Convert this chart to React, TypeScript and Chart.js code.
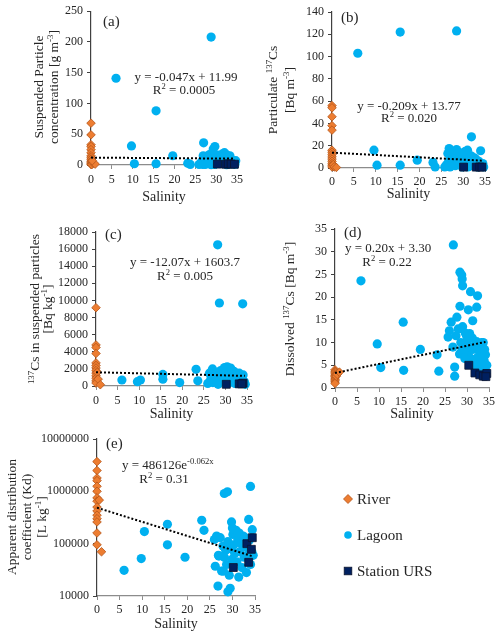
import React, { useEffect, useRef } from 'react';
import { Chart, registerables } from 'chart.js';
Chart.register(...registerables);

type P = [number, number];

const X_TICKS = [0, 5, 10, 15, 20, 25, 30, 35];

// ---------- (a) Suspended particle concentration ----------
const A_RIVER: P[] = [[0,68],[0,49],[0,33],[0,30],[0,25],[0,20],[0,15],[0,12],[0,9],[0,6],[0,4],[0,2],[0,1],[0.2,0.5],[0.5,3],[1,1.5],[0.3,7]];
const A_LAGOON: P[] = [[6.0,141],[28.8,208],[15.6,88],[9.7,31],[10.4,2],[15.6,2],[19.6,15],[23.2,3],[23.8,1],[27.0,36],[26.9,15],[29.7,30],[29.3,26],[34.7,7],
  [25.9,1],[26.3,3],[26.6,6],[26.8,1],[27.2,9],[27.5,3],[27.7,12],[28.0,5],[28.3,2],[28.4,17],[28.6,9],[28.9,13],[29.0,19],[29.2,4],[29.5,7],[29.7,1],[29.9,11],[30.1,3],[30.4,13],[30.6,16],[30.8,2],[31.0,9],[31.2,5],[31.3,14],[31.5,18],[31.7,12],[31.9,3],[32.0,20],[32.2,7],[32.4,17],[32.6,4],[32.8,10],[33.0,1],[33.1,12],[33.3,15],[33.5,5],[33.8,8],[34.0,2],[34.3,4],[34.5,1],[27.4,1],[28.8,0.5],[30.9,6],[32.5,0.5],[33.7,3]];
const A_URS: P[] = [[30.3,1.5],[32.3,1.2],[32.9,2],[33.6,1.5],[34.4,1.3]];
const A_FIT = { slope: -0.047, intercept: 11.99, xEnd: 34.4 };

// ---------- (b) Particulate 137Cs ----------
const B_RIVER: P[] = [[0,56],[0,54],[0,46],[0,38],[0,34],[0,16],[0,14],[0,12],[0,10],[0,8],[0,6],[0,4],[0,2.5],[0,1],[0.3,3],[0.5,1],[1.0,0.5]];
const B_LAGOON: P[] = [[5.9,103],[15.6,122],[28.5,123],[31.9,28],[9.6,16],[10.3,2.5],[15.6,2.5],[19.5,7],[23.1,5],[23.6,1],[26.8,17.5],[28.5,16.5],[30.5,15],[31.0,16],[34.0,15.5],
  [25.8,1],[26.2,3],[26.5,13],[26.7,6],[27.0,1],[27.3,9],[27.6,4],[27.9,11],[28.2,2],[28.4,7],[28.7,13],[29.0,3],[29.3,10],[29.5,5],[29.8,1],[30.0,8],[30.3,12],[30.6,3],[30.8,6],[31.1,1],[31.3,9],[31.6,4],[31.8,11],[32.1,2],[32.3,7],[32.6,9],[32.8,3],[33.1,5],[33.3,1],[33.6,6],[33.9,3],[34.2,2],[34.5,4],[34.7,1],[29.1,14],[27.2,15],[32.9,8]];
const B_URS: P[] = [[30.1,0.8],[33.0,0.8],[33.8,0.9],[34.3,0.8]];
const B_FIT = { slope: -0.209, intercept: 13.77, xEnd: 34.6 };

// ---------- (c) 137Cs in suspended particles ----------
const C_RIVER: P[] = [[0,9150],[0,4800],[0,4500],[0,3800],[0,2700],[0,2400],[0,2100],[0,1800],[0,1500],[0,1200],[0,900],[0,600],[0,350],[0.3,1600],[0.5,800],[1.0,150]];
const C_LAGOON: P[] = [[28.2,16500],[28.6,9700],[34.0,9600],[6.0,700],[9.6,500],[10.3,700],[15.5,1350],[15.5,800],[19.4,400],[23.2,1950],[23.6,600],
  [25.9,300],[26.3,1500],[26.6,800],[26.9,1700],[27.1,400],[27.4,1200],[27.7,600],[28.0,1500],[28.3,200],[28.6,1000],[28.9,1800],[29.1,500],[29.4,1300],[29.6,2000],[29.9,700],[30.1,1600],[30.4,2250],[30.6,300],[30.8,1100],[31.0,1900],[31.3,600],[31.5,1400],[31.7,900],[32.0,1700],[32.2,300],[32.5,1200],[32.7,600],[33.0,1000],[33.2,1500],[33.5,400],[33.8,800],[34.1,1300],[34.4,500],[34.6,200],[27.0,2000],[29.8,2150],[31.2,2100],[30.8,1200]];
const C_URS: P[] = [[30.2,200],[33.2,250],[34.1,330],[33.8,250]];
const C_FIT = { slope: -12.07, intercept: 1603.7, xEnd: 34.5 };

// ---------- (d) Dissolved 137Cs ----------
const D_RIVER: P[] = [[0,4.0],[0,3.7],[0,3.4],[0,3.1],[0,2.8],[0,2.5],[0,2.2],[0,1.9],[0,1.6],[0,1.3],[0,1.0],[0.3,2.6],[0.5,3.0],[1.0,3.5]];
const D_LAGOON: P[] = [[26.9,31.5],[5.9,23.6],[28.4,25.5],[28.8,24.9],[28.9,24],[29.0,22.5],[30.8,21.2],[32.4,20.3],[32.2,17.8],[28.4,18],[30.3,17.2],[31.3,14.8],[15.5,14.5],[9.6,9.7],[10.4,4.5],[15.6,3.9],[19.4,8.5],[23.2,7.3],[23.6,3.7],[26.4,14.5],[26.0,12.6],[25.7,11.2],[26.8,9],[27.2,4.6],[27.2,2.6],[27.7,15.6],[28.3,7.5],[29.0,13.5],[29.6,12.1],[29.9,11.5],[32.2,10.2],[33.7,10],[34.2,7.3],
  [27.5,11.5],[28.0,13],[28.6,10],[29.3,9],[29.8,8],[30.1,10.5],[30.4,7],[30.7,9],[31.0,6],[31.3,8.5],[31.6,5],[31.9,9.5],[32.1,6.5],[32.5,4.5],[32.8,8],[33.1,5.5],[33.4,7],[33.6,4],[33.9,6],[34.3,3.5],[34.5,5],[31.2,11],[30.6,12],[29.5,6.5],[28.9,8.5],[32.7,9],[33.3,10],[34.0,8.5]];
const D_URS: P[] = [[30.4,5.0],[31.8,3.3],[32.9,2.9],[33.7,2.6],[34.5,3.2],[34.3,2.5]];
const D_FIT = { slope: 0.20, intercept: 3.30, xEnd: 34.2 };

// ---------- (e) Apparent distribution coefficient ----------
const E_RIVER: P[] = [[0,3.7e6],[0,2.5e6],[0,1.8e6],[0,1.6e6],[0,1.25e6],[0,1.0e6],[0,7.5e5],[0,6.5e5],[0,5.0e5],[0,4.2e5],[0,3.5e5],[0,3.0e5],[0,2.6e5],[0,1.6e5],[0,9.5e4],[0.5,6.8e5],[1.0,7.0e4]];
const E_LAGOON: P[] = [[6.0,31000],[9.8,52000],[10.5,170000],[15.6,235000],[15.6,95000],[19.5,55000],[23.2,280000],[23.7,180000],[28.2,910000],[28.9,980000],[34.0,1240000],[26.8,15500],[29.0,12000],[29.5,14000],[26.2,37000],[29.8,260000],[33.6,290000],[34.4,185000],
  [26.0,120000],[26.5,140000],[26.9,60000],[27.3,130000],[27.6,30000],[27.9,90000],[28.2,55000],[28.5,75000],[28.7,40000],[29.0,110000],[29.3,25000],[29.6,80000],[29.9,50000],[30.1,150000],[30.3,95000],[30.5,65000],[30.8,180000],[31.0,45000],[31.2,120000],[31.4,23000],[31.6,70000],[31.9,100000],[32.1,35000],[32.4,140000],[32.6,55000],[32.9,85000],[33.1,28000],[33.4,60000],[33.7,115000],[34.0,40000],[34.3,70000],[34.6,60000],[30.0,200000],[31.5,160000],[32.8,130000],[28.0,30000],[27.0,58000]];
const E_URS: P[] = [[30.2,35000],[33.2,100000],[33.6,44000],[34.2,78000],[34.4,130000]];
const E_FIT = { coef: 486126, rate: -0.062, xEnd: 34.5 };
const E_Y_TICKS = [10000, 100000, 1000000, 10000000];

const LEGEND_LABELS = ['River', 'Lagoon', 'Station URS'];

// ---------- styling ----------
const FONT = '"Liberation Serif", "Times New Roman", serif';
const TEXT = '#262626';
const RIVER_FILL = '#ED7D31';
const RIVER_EDGE = '#B4561B';
const LAGOON_FILL = '#00B0F0';
const URS_FILL = '#002060';
const URS_EDGE = '#0a1430';
const W = 500;
const H = 635;
const Y_AXIS_W = 60;
const X_AXIS_H = 26;

type Rich = { text: string; x: number; y: number; size: number; align: 'left' | 'center' };

interface PanelCfg {
  area: [number, number, number, number];
  y: { min: number; max: number; step?: number; log?: boolean };
  river: P[];
  lagoon: P[];
  urs: P[];
  fit: P[];
  texts: Rich[];
  yTitle: { lines: string[]; xs: number[]; cy: number; size: number };
  xTitleY: number;
  xTickPad: number;
  legend?: boolean;
}

function linFit(f: { slope: number; intercept: number; xEnd: number }): P[] {
  return [[0, f.intercept], [f.xEnd, f.intercept + f.slope * f.xEnd]];
}
function expFit(f: { coef: number; rate: number; xEnd: number }): P[] {
  const pts: P[] = [];
  for (let x = 0; x <= f.xEnd + 1e-9; x += 0.5) pts.push([x, f.coef * Math.exp(f.rate * x)]);
  return pts;
}

type Seg = { t: string; sup: boolean };
function parseRich(s: string): Seg[] {
  const out: Seg[] = [];
  const re = /\^\{([^}]*)\}/g;
  let last = 0;
  let m: RegExpExecArray | null;
  while ((m = re.exec(s))) {
    if (m.index > last) out.push({ t: s.slice(last, m.index), sup: false });
    out.push({ t: m[1], sup: true });
    last = re.lastIndex;
  }
  if (last < s.length) out.push({ t: s.slice(last), sup: false });
  return out;
}
function drawRich(ctx: CanvasRenderingContext2D, s: string, x: number, yMid: number, size: number, align: 'left' | 'center', color = TEXT) {
  const segs = parseRich(s);
  const supSize = size * 0.66;
  const f = (sz: number) => `${sz}px ${FONT}`;
  let total = 0;
  const widths = segs.map((sg) => {
    ctx.font = f(sg.sup ? supSize : size);
    const w = ctx.measureText(sg.t).width;
    total += w;
    return w;
  });
  let cx = align === 'center' ? x - total / 2 : x;
  const base = yMid + size * 0.33;
  ctx.fillStyle = color;
  ctx.textAlign = 'left';
  ctx.textBaseline = 'alphabetic';
  segs.forEach((sg, i) => {
    ctx.font = f(sg.sup ? supSize : size);
    ctx.fillText(sg.t, cx, sg.sup ? base - size * 0.4 : base);
    cx += widths[i];
  });
}

const textPlugin = {
  id: 'panelText',
  afterDraw(chart: any) {
    const cfg: PanelCfg = chart.options.plugins.panelText.cfg;
    const ctx: CanvasRenderingContext2D = chart.ctx;
    const [L, , R] = cfg.area;
    ctx.save();
    cfg.texts.forEach((t) => drawRich(ctx, t.text, t.x, t.y, t.size, t.align));
    cfg.yTitle.lines.forEach((line, i) => {
      ctx.save();
      ctx.translate(cfg.yTitle.xs[i], cfg.yTitle.cy);
      ctx.rotate(-Math.PI / 2);
      drawRich(ctx, line, 0, 0, cfg.yTitle.size, 'center');
      ctx.restore();
    });
    drawRich(ctx, 'Salinity', (L + R) / 2, cfg.xTitleY, 14, 'center');
    if (cfg.legend) {
      const mx = 348;
      const ys = [499, 535, 571];
      ctx.beginPath();
      ctx.moveTo(mx, ys[0] - 4.5); ctx.lineTo(mx + 4.5, ys[0]); ctx.lineTo(mx, ys[0] + 4.5); ctx.lineTo(mx - 4.5, ys[0]);
      ctx.closePath();
      ctx.fillStyle = RIVER_FILL; ctx.fill();
      ctx.strokeStyle = RIVER_EDGE; ctx.lineWidth = 0.8; ctx.stroke();
      ctx.beginPath();
      ctx.arc(mx, ys[1], 3.8, 0, Math.PI * 2);
      ctx.fillStyle = LAGOON_FILL; ctx.fill();
      ctx.fillStyle = URS_FILL;
      ctx.fillRect(mx - 3.8, ys[2] - 3.8, 7.6, 7.6);
      ctx.strokeStyle = URS_EDGE; ctx.lineWidth = 0.8;
      ctx.strokeRect(mx - 3.8, ys[2] - 3.8, 7.6, 7.6);
      LEGEND_LABELS.forEach((lab, i) => drawRich(ctx, lab, 357, ys[i], 15, 'left'));
    }
    ctx.restore();
  },
};

function makeChart(canvas: HTMLCanvasElement, cfg: PanelCfg) {
  const [L, T, R, B] = cfg.area;
  const axisText = { family: FONT, size: 12 };
  const yScale: any = cfg.y.log
    ? {
        type: 'logarithmic',
        min: cfg.y.min,
        max: cfg.y.max,
        afterBuildTicks: (s: any) => { s.ticks = E_Y_TICKS.map((v) => ({ value: v })); },
        ticks: { font: axisText, color: TEXT, padding: 4, callback: (v: any) => String(v) },
      }
    : {
        type: 'linear',
        min: cfg.y.min,
        max: cfg.y.max,
        ticks: { font: axisText, color: TEXT, padding: 4, stepSize: cfg.y.step, autoSkip: false, callback: (v: any) => String(v) },
      };
  yScale.afterFit = (s: any) => { s.width = Y_AXIS_W; };
  yScale.grid = { display: true, drawOnChartArea: false, drawTicks: true, tickLength: 4, color: '#404040', lineWidth: 1 };
  yScale.border = { display: true, color: '#404040', width: 1.2 };

  return new Chart(canvas, {
    type: 'scatter',
    data: {
      datasets: [
        { label: 'fit', data: cfg.fit.map(([x, y]) => ({ x, y })), showLine: true, pointRadius: 0, borderColor: '#000', borderWidth: 2, borderDash: [2, 2], clip: false as any },
        { label: 'Station URS', data: cfg.urs.map(([x, y]) => ({ x, y })), pointStyle: 'rect', pointRadius: 5.6, backgroundColor: URS_FILL, borderColor: URS_EDGE, borderWidth: 0.8, clip: false as any },
        { label: 'River', data: cfg.river.map(([x, y]) => ({ x, y })), pointStyle: 'rectRot', pointRadius: 4.3, backgroundColor: RIVER_FILL, borderColor: RIVER_EDGE, borderWidth: 0.8, clip: false as any },
        { label: 'Lagoon', data: cfg.lagoon.map(([x, y]) => ({ x, y })), pointStyle: 'circle', pointRadius: 4.6, backgroundColor: LAGOON_FILL, borderWidth: 0, clip: false as any },
      ],
    } as any,
    options: {
      animation: false,
      responsive: false,
      events: [],
      layout: { padding: { left: L - Y_AXIS_W, top: T, right: W - R, bottom: H - B - X_AXIS_H } },
      plugins: { legend: { display: false }, tooltip: { enabled: false }, panelText: { cfg } } as any,
      scales: {
        x: {
          type: 'linear',
          min: 0,
          max: 35,
          afterBuildTicks: (s: any) => { s.ticks = X_TICKS.map((v) => ({ value: v })); },
          afterFit: (s: any) => { s.height = X_AXIS_H; },
          ticks: { font: axisText, color: TEXT, padding: cfg.xTickPad, maxRotation: 0, autoSkip: false, callback: (v: any) => String(v) },
          grid: { display: true, drawOnChartArea: false, drawTicks: true, tickLength: 4, color: '#8c8c8c' },
          border: { display: true, color: '#8c8c8c', width: 1.2 },
        },
        y: yScale,
      },
    } as any,
    plugins: [textPlugin],
  });
}

const PANELS: PanelCfg[] = [
  {
    area: [91, 9, 237, 165],
    y: { min: 0, max: 250, step: 50 },
    river: A_RIVER, lagoon: A_LAGOON, urs: A_URS, fit: linFit(A_FIT),
    texts: [
      { text: '(a)', x: 103, y: 21, size: 15, align: 'left' },
      { text: 'y = -0.047x + 11.99', x: 186, y: 77, size: 13, align: 'center' },
      { text: 'R^{2} = 0.0005', x: 184, y: 90, size: 13, align: 'center' },
    ],
    yTitle: { lines: ['Suspended Particle', 'concentration [g m^{-3}]'], xs: [39, 54], cy: 87, size: 13.5 },
    xTitleY: 196,
    xTickPad: 4,
  },
  {
    area: [332, 12, 485, 168],
    y: { min: 0, max: 140, step: 20 },
    river: B_RIVER, lagoon: B_LAGOON, urs: B_URS, fit: linFit(B_FIT),
    texts: [
      { text: '(b)', x: 341, y: 17, size: 15, align: 'left' },
      { text: 'y = -0.209x + 13.77', x: 409, y: 106, size: 13, align: 'center' },
      { text: 'R^{2} = 0.020', x: 409, y: 118, size: 13, align: 'center' },
    ],
    yTitle: { lines: ['Particulate ^{137}Cs', '[Bq m^{-3}]'], xs: [273, 290], cy: 90, size: 13.5 },
    xTitleY: 193,
    xTickPad: 3,
  },
  {
    area: [96, 232, 247, 386],
    y: { min: 0, max: 18000, step: 2000 },
    river: C_RIVER, lagoon: C_LAGOON, urs: C_URS, fit: linFit(C_FIT),
    texts: [
      { text: '(c)', x: 105, y: 234, size: 15, align: 'left' },
      { text: 'y = -12.07x + 1603.7', x: 185, y: 262, size: 13, align: 'center' },
      { text: 'R^{2} = 0.005', x: 185, y: 276, size: 13, align: 'center' },
    ],
    yTitle: { lines: ['^{137}Cs in suspended particles', '[Bq kg^{-1}]'], xs: [35, 48], cy: 309, size: 13.5 },
    xTitleY: 413,
    xTickPad: 4,
  },
  {
    area: [335, 229, 489, 388],
    y: { min: 0, max: 35, step: 5 },
    river: D_RIVER, lagoon: D_LAGOON, urs: D_URS, fit: linFit(D_FIT),
    texts: [
      { text: '(d)', x: 344, y: 232, size: 15, align: 'left' },
      { text: 'y = 0.20x + 3.30', x: 345, y: 248, size: 13, align: 'left' },
      { text: 'R^{2} = 0.22', x: 387, y: 262, size: 13, align: 'center' },
    ],
    yTitle: { lines: ['Dissolved ^{137}Cs [Bq m^{-3}]'], xs: [290], cy: 309, size: 13.5 },
    xTitleY: 413,
    xTickPad: 3,
  },
  {
    area: [97, 439, 255, 596],
    y: { min: 10000, max: 10000000, log: true },
    river: E_RIVER, lagoon: E_LAGOON, urs: E_URS, fit: expFit(E_FIT),
    texts: [
      { text: '(e)', x: 106, y: 443, size: 15, align: 'left' },
      { text: 'y = 486126e^{-0.062x}', x: 122, y: 465, size: 13, align: 'left' },
      { text: 'R^{2} = 0.31', x: 164, y: 479, size: 13, align: 'center' },
    ],
    yTitle: { lines: ['Apparent distribution', 'coefficient (Kd)', '[L kg^{-1}]'], xs: [12, 27, 42], cy: 517, size: 13.5 },
    xTitleY: 623,
    xTickPad: 3,
    legend: true,
  },
];

function Panel({ cfg }: { cfg: PanelCfg }) {
  const ref = useRef<HTMLCanvasElement>(null);
  useEffect(() => {
    if (!ref.current) return;
    const chart = makeChart(ref.current, cfg);
    return () => chart.destroy();
  }, [cfg]);
  return (
    <canvas
      ref={ref}
      width={W}
      height={H}
      style={{ position: 'absolute', left: 0, top: 0, width: W, height: H }}
    />
  );
}

export default function App() {
  return (
    <div style={{ position: 'absolute', left: 0, top: 0, width: W, height: H, background: '#fff', overflow: 'hidden' }}>
      {PANELS.map((p, i) => (
        <Panel key={i} cfg={p} />
      ))}
    </div>
  );
}
